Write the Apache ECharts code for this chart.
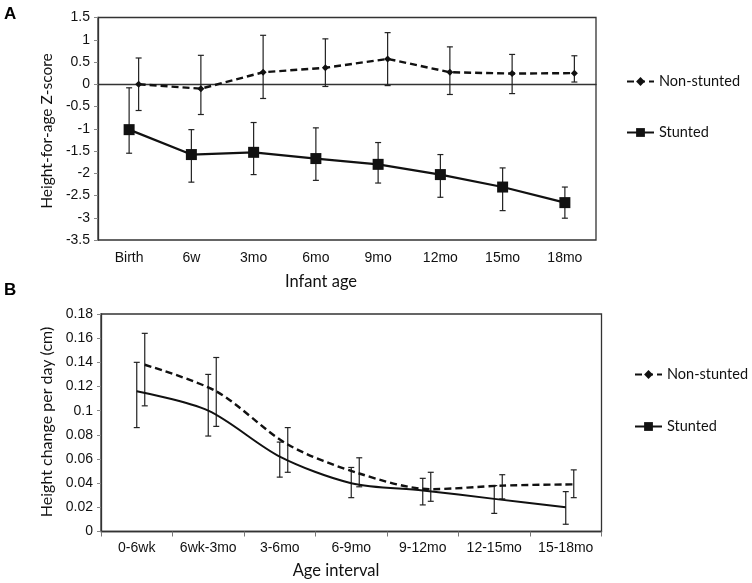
<!DOCTYPE html>
<html>
<head>
<meta charset="utf-8">
<script src="https://cdn.jsdelivr.net/npm/echarts@6/dist/echarts.min.js"></script>
<style>
html,body{margin:0;padding:0;background:#fff;}
#chart{width:752px;height:583px;}
</style>
</head>
<body>
<div id="chart"></div>
<script>
// ---------- Panel A data ----------
const ageA = ['Birth', '6w', '3mo', '6mo', '9mo', '12mo', '15mo', '18mo'];
const stuntedA = [-1.02, -1.58, -1.53, -1.67, -1.80, -2.03, -2.31, -2.66];
const stuntedA_hi = [-0.08, -1.02, -0.86, -0.98, -1.31, -1.58, -1.88, -2.31];
const stuntedA_lo = [-1.55, -2.20, -2.03, -2.16, -2.22, -2.54, -2.84, -3.01];
const nonA = [0.00, -0.10, 0.27, 0.37, 0.57, 0.27, 0.24, 0.25];
const nonA_hi = [0.59, 0.65, 1.10, 1.02, 1.16, 0.84, 0.67, 0.64];
const nonA_lo = [-0.59, -0.68, -0.32, -0.05, -0.03, -0.23, -0.21, 0.05];

// ---------- Panel B data ----------
const ageB = ['0-6wk', '6wk-3mo', '3-6mo', '6-9mo', '9-12mo', '12-15mo', '15-18mo'];
const stuntedB = [0.116, 0.100, 0.062, 0.040, 0.034, 0.027, 0.020];
const stuntedB_hi = [0.140, 0.130, 0.074, 0.053, 0.044, 0.038, 0.033];
const stuntedB_lo = [0.086, 0.079, 0.045, 0.028, 0.022, 0.015, 0.006];
const nonB = [0.138, 0.116, 0.072, 0.048, 0.035, 0.038, 0.039];
const nonB_hi = [0.164, 0.144, 0.086, 0.061, 0.049, 0.047, 0.051];
const nonB_lo = [0.104, 0.087, 0.049, 0.037, 0.025, 0.027, 0.028];

const labelFont = 'Liberation Sans, Arial, sans-serif';
const titleFont = 'Lato, Open Sans, sans-serif';

function errData(lo, hi) { return lo.map((v, i) => [i, v, hi[i]]); }
function errRender(params, api) {
  const i = api.value(0);
  const p1 = api.coord([i, api.value(1)]);
  const p2 = api.coord([i, api.value(2)]);
  const w = 3;
  const st = { stroke: '#222', lineWidth: 1.2 };
  return {
    type: 'group',
    children: [
      { type: 'line', shape: { x1: p1[0], y1: p1[1], x2: p2[0], y2: p2[1] }, style: st },
      { type: 'line', shape: { x1: p1[0] - w, y1: p1[1], x2: p1[0] + w, y2: p1[1] }, style: st },
      { type: 'line', shape: { x1: p2[0] - w, y1: p2[1], x2: p2[0] + w, y2: p2[1] }, style: st }
    ]
  };
}

const gA = { left: 98, top: 17.5, width: 498, height: 222.5 };
const gB = { left: 101, top: 314, width: 500.5, height: 217.5 };

const hiddenAxis = { show: false };
const tickLabel = { color: '#111', fontFamily: labelFont, fontSize: 14 };

const option = {
  animation: false,
  backgroundColor: '#fff',
  grid: [
    Object.assign({ show: true, borderColor: '#333', borderWidth: 1.3, backgroundColor: 'transparent' }, gA),
    Object.assign({}, gA, { left: gA.left + 9.5 }),
    Object.assign({ show: true, borderColor: '#333', borderWidth: 1.3, backgroundColor: 'transparent' }, gB),
    Object.assign({}, gB, { left: gB.left + 8 })
  ],
  xAxis: [
    { type: 'category', gridIndex: 0, data: ageA, boundaryGap: true,
      axisLine: { lineStyle: { color: '#333', width: 1.3 } }, axisTick: { show: false },
      axisLabel: Object.assign({ margin: 11, interval: 0 }, tickLabel) },
    Object.assign({ type: 'category', gridIndex: 1, data: ageA, boundaryGap: true }, hiddenAxis),
    { type: 'category', gridIndex: 2, data: ageB, boundaryGap: true,
      axisLine: { lineStyle: { color: '#333', width: 1.3 } },
      axisTick: { show: true, length: 5, interval: 0, lineStyle: { color: '#777' } },
      axisLabel: Object.assign({ margin: 10, interval: 0, hideOverlap: false }, tickLabel) },
    Object.assign({ type: 'category', gridIndex: 3, data: ageB, boundaryGap: true }, hiddenAxis)
  ],
  yAxis: [
    { type: 'value', gridIndex: 0, min: -3.5, max: 1.5, interval: 0.5,
      splitLine: { show: false },
      axisLine: { show: true, lineStyle: { color: '#333', width: 1.3 } },
      axisTick: { show: true, length: 4, lineStyle: { color: '#888' } },
      axisLabel: Object.assign({ margin: 8 }, tickLabel) },
    Object.assign({ type: 'value', gridIndex: 1, min: -3.5, max: 1.5, interval: 0.5 }, hiddenAxis),
    { type: 'value', gridIndex: 2, min: 0, max: 0.18, interval: 0.02,
      splitLine: { show: false },
      axisLine: { show: true, lineStyle: { color: '#333', width: 1.3 } },
      axisTick: { show: true, length: 4, lineStyle: { color: '#888' } },
      axisLabel: Object.assign({ margin: 8, formatter: v => String(+v.toFixed(2)) }, tickLabel) },
    Object.assign({ type: 'value', gridIndex: 3, min: 0, max: 0.18, interval: 0.02 }, hiddenAxis)
  ],
  legend: [
    { orient: 'vertical', left: 621, top: 69, itemGap: 36, itemWidth: 27, itemHeight: 11,
      data: ['Non-stunted', 'Stunted'],
      textStyle: { fontFamily: titleFont, fontSize: 14.5, color: '#111' } },
    { orient: 'vertical', left: 629, top: 362, itemGap: 37, itemWidth: 27, itemHeight: 11,
      data: ['Non-stunted', 'Stunted'],
      textStyle: { fontFamily: titleFont, fontSize: 14.5, color: '#111' } }
  ],
  graphic: [
    { type: 'text', left: 4, top: 6, style: { text: 'A', font: 'bold 17px Liberation Sans, Arial', fill: '#000' } },
    { type: 'text', left: 4, top: 282, style: { text: 'B', font: 'bold 17px Liberation Sans, Arial', fill: '#000' } },
    { type: 'text', x: 47, y: 131, rotation: Math.PI / 2,
      style: { text: 'Height-for-age Z-score', font: '15.5px ' + titleFont, fill: '#111', align: 'center', verticalAlign: 'middle' } },
    { type: 'text', x: 321, y: 282,
      style: { text: 'Infant age', font: '16.5px ' + titleFont, fill: '#111', align: 'center', verticalAlign: 'middle' } },
    { type: 'text', x: 47, y: 422, rotation: Math.PI / 2,
      style: { text: 'Height change per day (cm)', font: '16px ' + titleFont, fill: '#111', align: 'center', verticalAlign: 'middle' } },
    { type: 'text', x: 336, y: 571,
      style: { text: 'Age interval', font: '16.5px ' + titleFont, fill: '#111', align: 'center', verticalAlign: 'middle' } }
  ],
  series: [
    // Panel A
    { type: 'custom', xAxisIndex: 0, yAxisIndex: 0, data: errData(stuntedA_lo, stuntedA_hi),
      renderItem: errRender, silent: true, z: 1 },
    { type: 'custom', xAxisIndex: 1, yAxisIndex: 1, data: errData(nonA_lo, nonA_hi),
      renderItem: errRender, silent: true, z: 1 },
    { name: 'Non-stunted', type: 'line', xAxisIndex: 1, yAxisIndex: 1, data: nonA,
      symbol: 'diamond', symbolSize: 7, itemStyle: { color: '#111' },
      lineStyle: { color: '#111', width: 2.4, type: [7, 4] }, z: 3 },
    { name: 'Stunted', type: 'line', xAxisIndex: 0, yAxisIndex: 0, data: stuntedA,
      symbol: 'rect', symbolSize: 11, itemStyle: { color: '#111' },
      lineStyle: { color: '#111', width: 2.2 }, z: 3,
      markLine: { silent: true, symbol: 'none', label: { show: false }, z: 0,
        lineStyle: { color: '#999', width: 1, type: 'solid' }, data: [{ yAxis: 0 }] } },
    // Panel B
    { type: 'custom', xAxisIndex: 2, yAxisIndex: 2, data: errData(stuntedB_lo, stuntedB_hi),
      renderItem: errRender, silent: true, z: 1 },
    { type: 'custom', xAxisIndex: 3, yAxisIndex: 3, data: errData(nonB_lo, nonB_hi),
      renderItem: errRender, silent: true, z: 1 },
    { name: 'Non-stunted', type: 'line', xAxisIndex: 3, yAxisIndex: 3, data: nonB,
      smooth: 0.3, showSymbol: false, symbol: 'diamond', symbolSize: 7, itemStyle: { color: '#111' },
      lineStyle: { color: '#111', width: 2.4, type: [7, 4] }, z: 3 },
    { name: 'Stunted', type: 'line', xAxisIndex: 2, yAxisIndex: 2, data: stuntedB,
      smooth: 0.3, showSymbol: false, symbol: 'rect', symbolSize: 11, itemStyle: { color: '#111' },
      lineStyle: { color: '#111', width: 2 }, z: 3 }
  ]
};

const chart = echarts.init(document.getElementById('chart'), null, { renderer: 'canvas' });
chart.setOption(option);
</script>
</body>
</html>
